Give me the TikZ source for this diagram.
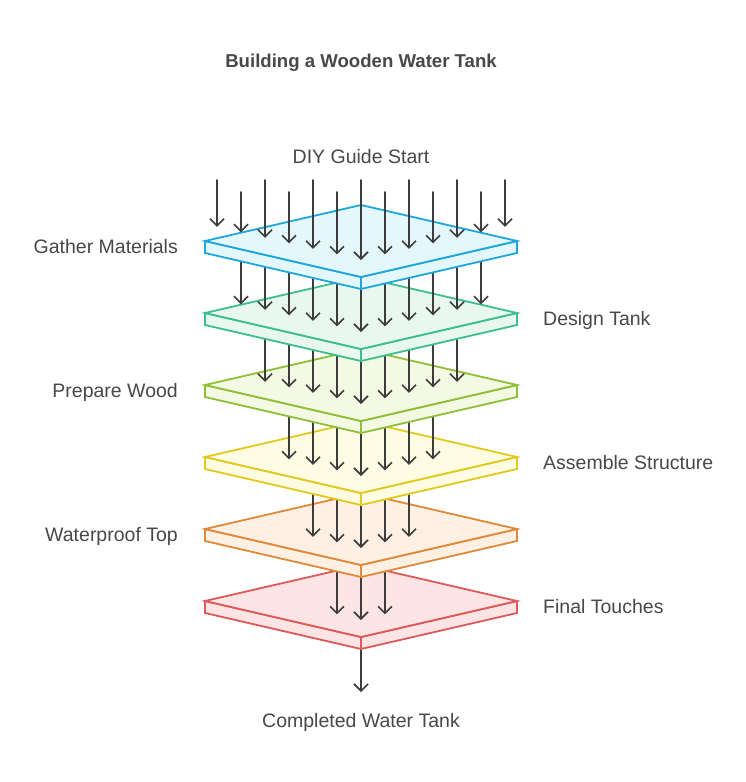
\documentclass[tikz,border=0pt]{standalone}
\usepackage{fontspec}
\setmainfont{Liberation Sans}
\usetikzlibrary{arrows.meta,calc}
\definecolor{txt}{HTML}{484848}
\definecolor{arr}{HTML}{3D3D3D}
\definecolor{s1}{HTML}{1EA8D9}\definecolor{f1}{HTML}{E4F7FD}
\definecolor{s2}{HTML}{3CBF8D}\definecolor{f2}{HTML}{E8F8EF}
\definecolor{s3}{HTML}{8EBF36}\definecolor{f3}{HTML}{F3F9E3}
\definecolor{s4}{HTML}{E1CA1C}\definecolor{f4}{HTML}{FEFCE2}
\definecolor{s5}{HTML}{DF8A3A}\definecolor{f5}{HTML}{FEF0E2}
\definecolor{s6}{HTML}{DC5A5A}\definecolor{f6}{HTML}{FEE4E4}
\tikzset{
  flow/.style={draw=arr, line width=1.6pt, line cap=round, -{Straight Barb[length=7pt,width=14pt,line width=1.6pt]}},
  slab/.style={line width=1.8pt, line join=miter},
  lbl/.style={font=\fontsize{19.5}{23}\selectfont, text=txt, inner sep=0pt},
}
\begin{document}
\begin{tikzpicture}[x=1pt,y=-1pt]
\useasboundingbox (0,0) rectangle (746,782);
\fill[white] (0,0) rectangle (746,782);
\node[font=\bfseries\fontsize{18.6}{22}\selectfont, text=txt, inner sep=0pt, anchor=base] (title) at (361,67.5) {Building a Wooden Water Tank};
\node[lbl, anchor=base] (start) at (361,163.5) {DIY Guide Start};
\node[lbl, anchor=base] (end) at (361,727.5) {Completed Water Tank};
% final arrow
\coordinate (f0) at (361,649);
\coordinate (f1) at (361,692);
\draw[flow] (f0) -- (f1);
\foreach \k in {6,5,4,3,2,1}{
  \pgfmathsetmacro{\cy}{241+72*(\k-1)}
  \pgfmathtruncatemacro{\m}{7-\k}
  % slab
  \coordinate (L\k) at (205,\cy);
  \coordinate (R\k) at (517,\cy);
  \coordinate (T\k) at (361,\cy-36);
  \coordinate (B\k) at (361,\cy+36);
  \draw[slab, draw=s\k, fill=f\k] (L\k) -- (B\k) -- ++(0,12) -- ($(L\k)+(0,12)$) -- cycle;
  \draw[slab, draw=s\k, fill=f\k] (R\k) -- (B\k) -- ++(0,12) -- ($(R\k)+(0,12)$) -- cycle;
  \draw[slab, draw=s\k, fill=f\k] (L\k) -- (T\k) -- (R\k) -- (B\k) -- cycle;
  % arrows into layer k
  \foreach \i in {-\m,...,\m}{
    \pgfmathsetmacro{\xx}{361+24*\i}
    \pgfmathsetmacro{\ye}{\cy+36*(1-24*abs(\i)/156)-17}
    \ifnum\k=1
      \pgfmathsetmacro{\ys}{isodd(\i) ? 192 : 180}
    \else
      \pgfmathsetmacro{\ys}{\cy-72}
    \fi
    \coordinate (a\k s\i) at (\xx,\ys);
    \coordinate (a\k e\i) at (\xx,\ye);
    \draw[flow] (a\k s\i) -- (a\k e\i);
  }
}
\node[lbl, anchor=base east] (n1) at (178,253.5) {Gather Materials};
\node[lbl, anchor=base west] (n2) at (543,325.5) {Design Tank};
\node[lbl, anchor=base east] (n3) at (178,397.5) {Prepare Wood};
\node[lbl, anchor=base west] (n4) at (543,469.5) {Assemble Structure};
\node[lbl, anchor=base east] (n5) at (178,541.5) {Waterproof Top};
\node[lbl, anchor=base west] (n6) at (543,613.5) {Final Touches};
\end{tikzpicture}
\end{document}
